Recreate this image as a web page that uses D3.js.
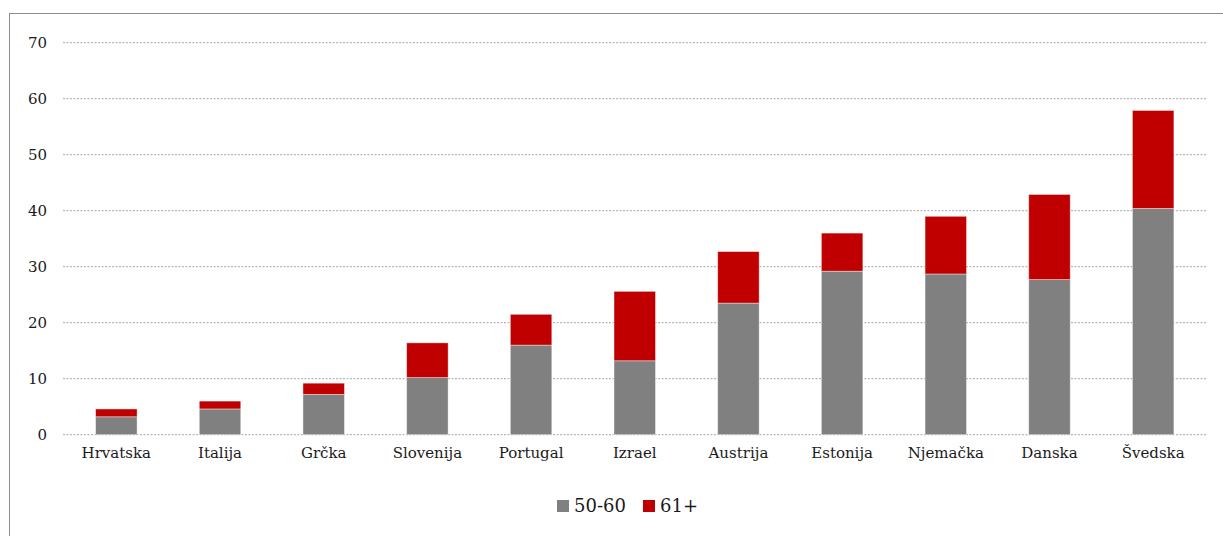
<!DOCTYPE html>
<html>
<head>
<meta charset="utf-8">
<script src="https://cdn.jsdelivr.net/npm/d3@7"></script>
<style>
  body { margin: 0; background: #fff; }
  svg text { font-family: "DejaVu Serif", serif; fill: #1a1a1a; }
</style>
</head>
<body>
<div id="chart"></div>
<script>
const countries = ["Hrvatska", "Italija", "Grčka", "Slovenija", "Portugal", "Izrael",
  "Austrija", "Estonija", "Njemačka", "Danska", "Švedska"];
const age5060 = [3.2, 4.6, 7.2, 10.2, 16.0, 13.2, 23.5, 29.2, 28.7, 27.7, 40.4];
const age61 = [1.4, 1.4, 2.0, 6.2, 5.5, 12.4, 9.2, 6.8, 10.3, 15.2, 17.5];
const yTicks = [0, 10, 20, 30, 40, 50, 60, 70];
const seriesNames = ["50-60", "61+"];
const colors = ["#808080", "#c00000"];

const width = 1223, height = 536;
const margin = { top: 42.7, right: 18, bottom: 101.3, left: 64.5 };

const svg = d3.select("#chart").append("svg")
  .attr("width", width).attr("height", height);

// outer frame
svg.append("rect")
  .attr("x", 9.5).attr("y", 13.5)
  .attr("width", width).attr("height", height)
  .attr("fill", "none").attr("stroke", "#8c8c8c").attr("stroke-width", 1);

const rows = countries.map((c, i) => ({ country: c, "50-60": age5060[i], "61+": age61[i] }));
const stack = d3.stack().keys(seriesNames)(rows);

const x = d3.scaleBand()
  .domain(countries)
  .range([margin.left, width - margin.right])
  .paddingInner(0.6).paddingOuter(0.3);

const y = d3.scaleLinear()
  .domain([0, 70])
  .range([height - margin.bottom, margin.top]);

// grid lines
svg.append("g")
  .selectAll("line")
  .data(yTicks)
  .join("line")
  .attr("x1", 63).attr("x2", 1206)
  .attr("y1", d => y(d)).attr("y2", d => y(d))
  .attr("stroke", "#a6a6a6")
  .attr("stroke-width", 1)
  .attr("stroke-dasharray", "2,1.5");

// y axis labels
const yAxis = svg.append("g")
  .attr("transform", "translate(47,0)")
  .call(d3.axisLeft(y).tickValues(yTicks).tickSize(0).tickPadding(0));
yAxis.select(".domain").remove();
yAxis.selectAll("text").attr("font-size", 15).attr("font-family", "DejaVu Serif").attr("fill", "#1a1a1a");

// bars
svg.append("g")
  .selectAll("g")
  .data(stack)
  .join("g")
  .attr("fill", (d, i) => colors[i])
  .selectAll("rect")
  .data(d => d)
  .join("rect")
  .attr("x", d => x(d.data.country))
  .attr("y", d => y(d[1]))
  .attr("width", x.bandwidth())
  .attr("height", d => y(d[0]) - y(d[1]))
  .attr("stroke", "#ffffff")
  .attr("stroke-opacity", 0.5)
  .attr("stroke-width", 0.8);

// x axis labels
const xAxis = svg.append("g")
  .attr("transform", `translate(0,${y(0) + 11})`)
  .call(d3.axisBottom(x).tickSize(0).tickPadding(0));
xAxis.select(".domain").remove();
xAxis.selectAll("text").attr("font-size", 15).attr("font-family", "DejaVu Serif").attr("fill", "#1a1a1a")
  .attr("dy", "0.85em");

// legend
const legendX = [557, 643];
const legend = svg.append("g");
seriesNames.forEach((name, i) => {
  legend.append("rect")
    .attr("x", legendX[i]).attr("y", 500)
    .attr("width", 12).attr("height", 12)
    .attr("fill", colors[i]);
  legend.append("text")
    .attr("x", legendX[i] + 17).attr("y", 506)
    .attr("dy", "0.35em")
    .attr("font-size", 18)
    .text(name);
});
</script>
</body>
</html>
